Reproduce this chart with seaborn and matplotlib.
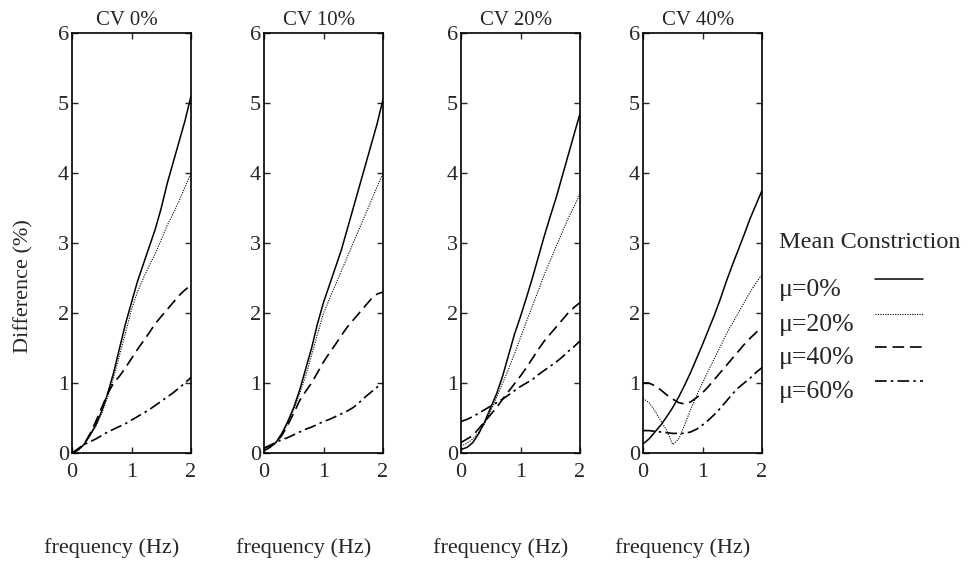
import matplotlib
matplotlib.use("Agg")
import matplotlib.pyplot as plt
from matplotlib.lines import Line2D
import pandas as pd
import seaborn as sns

# frequency grid (Hz) shared by all panels
freq = [0.0, 0.1, 0.2, 0.3, 0.4, 0.5, 0.6, 0.7, 0.8, 0.9, 1.0,
        1.1, 1.2, 1.3, 1.4, 1.5, 1.6, 1.7, 1.8, 1.9, 2.0]

panel_titles = ["CV 0%", "CV 10%", "CV 20%", "CV 40%"]
mu_labels = ["\u03bc=0%", "\u03bc=20%", "\u03bc=40%", "\u03bc=60%"]

# difference (%) per panel, per mean constriction
cv0_mu0 = [0.0, 0.04, 0.12, 0.25, 0.40, 0.60, 0.85, 1.15, 1.50, 1.85, 2.15,
           2.45, 2.70, 2.95, 3.20, 3.50, 3.85, 4.15, 4.45, 4.75, 5.10]
cv0_mu20 = [0.0, 0.04, 0.12, 0.25, 0.38, 0.57, 0.80, 1.08, 1.40, 1.72, 2.05,
            2.30, 2.50, 2.68, 2.85, 3.05, 3.25, 3.42, 3.60, 3.80, 4.00]
cv0_mu40 = [0.0, 0.05, 0.12, 0.27, 0.45, 0.65, 0.85, 1.00, 1.10, 1.22, 1.35,
            1.48, 1.60, 1.72, 1.85, 1.95, 2.05, 2.15, 2.25, 2.33, 2.40]
cv0_mu60 = [0.0, 0.06, 0.12, 0.16, 0.20, 0.25, 0.30, 0.34, 0.38, 0.42, 0.47,
            0.52, 0.57, 0.62, 0.68, 0.74, 0.80, 0.86, 0.93, 1.00, 1.08]

cv10_mu0 = [0.03, 0.08, 0.15, 0.28, 0.45, 0.65, 0.90, 1.20, 1.50, 1.85, 2.15,
            2.40, 2.65, 2.90, 3.20, 3.50, 3.80, 4.10, 4.40, 4.70, 5.05]
cv10_mu20 = [0.03, 0.08, 0.15, 0.27, 0.42, 0.62, 0.85, 1.10, 1.40, 1.70, 2.00,
             2.20, 2.40, 2.60, 2.80, 3.00, 3.20, 3.40, 3.60, 3.80, 4.00]
cv10_mu40 = [0.07, 0.10, 0.15, 0.25, 0.40, 0.57, 0.75, 0.88, 1.00, 1.15, 1.30,
             1.43, 1.55, 1.68, 1.80, 1.90, 2.00, 2.10, 2.20, 2.27, 2.30]
cv10_mu60 = [0.07, 0.11, 0.15, 0.19, 0.22, 0.26, 0.30, 0.34, 0.37, 0.41, 0.45,
             0.48, 0.52, 0.56, 0.60, 0.65, 0.72, 0.80, 0.87, 0.94, 1.00]

cv20_mu0 = [0.05, 0.08, 0.15, 0.28, 0.45, 0.65, 0.85, 1.10, 1.40, 1.70, 1.95,
            2.22, 2.50, 2.80, 3.10, 3.38, 3.65, 3.95, 4.25, 4.55, 4.85]
cv20_mu20 = [0.10, 0.14, 0.20, 0.30, 0.42, 0.60, 0.80, 1.00, 1.20, 1.42, 1.65,
             1.88, 2.10, 2.32, 2.55, 2.75, 2.95, 3.15, 3.35, 3.52, 3.70]
cv20_mu40 = [0.15, 0.20, 0.25, 0.35, 0.45, 0.55, 0.65, 0.77, 0.88, 0.99, 1.10,
             1.22, 1.35, 1.48, 1.60, 1.70, 1.80, 1.90, 2.00, 2.08, 2.15]
cv20_mu60 = [0.45, 0.48, 0.52, 0.57, 0.62, 0.67, 0.72, 0.77, 0.83, 0.89, 0.95,
             1.00, 1.05, 1.12, 1.18, 1.24, 1.30, 1.37, 1.45, 1.52, 1.60]

cv40_mu0 = [0.13, 0.20, 0.30, 0.40, 0.52, 0.65, 0.80, 0.97, 1.15, 1.35, 1.55,
            1.76, 1.97, 2.20, 2.45, 2.68, 2.90, 3.12, 3.35, 3.55, 3.75]
cv40_mu20 = [0.78, 0.72, 0.60, 0.46, 0.32, 0.12, 0.20, 0.40, 0.62, 0.82, 1.00,
             1.18, 1.35, 1.52, 1.70, 1.85, 2.00, 2.15, 2.30, 2.43, 2.55]
cv40_mu40 = [1.00, 1.00, 0.96, 0.90, 0.83, 0.77, 0.72, 0.70, 0.73, 0.79, 0.86,
             0.95, 1.05, 1.15, 1.25, 1.35, 1.45, 1.55, 1.64, 1.72, 1.80]
cv40_mu60 = [0.32, 0.32, 0.31, 0.30, 0.29, 0.28, 0.28, 0.28, 0.30, 0.34, 0.40,
             0.47, 0.55, 0.64, 0.74, 0.84, 0.93, 1.00, 1.07, 1.15, 1.22]

panels = [
    [cv0_mu0, cv0_mu20, cv0_mu40, cv0_mu60],
    [cv10_mu0, cv10_mu20, cv10_mu40, cv10_mu60],
    [cv20_mu0, cv20_mu20, cv20_mu40, cv20_mu60],
    [cv40_mu0, cv40_mu20, cv40_mu40, cv40_mu60],
]

# line styles per mean constriction
styles = {
    mu_labels[0]: dict(ls="-", lw=1.1),
    mu_labels[1]: dict(ls=(0, (1, 1.2)), lw=0.8),
    mu_labels[2]: dict(ls=(0, (7, 3.5)), lw=1.2),
    mu_labels[3]: dict(ls=(0, (7, 2.5, 1.5, 2.5)), lw=1.2),
}

sns.set_style("ticks")
plt.rcParams["font.family"] = ["Liberation Serif", "DejaVu Serif"]

W, H = 974, 583
fig = plt.figure(figsize=(W / 100, H / 100), dpi=100)

ax_lefts = [72, 264, 461, 643]
ax_w, ax_top, ax_bottom = 119, 33, 453

for left, title, series in zip(ax_lefts, panel_titles, panels):
    ax = fig.add_axes([left / W, 1 - ax_bottom / H, ax_w / W, (ax_bottom - ax_top) / H])
    for label, vals in zip(mu_labels, series):
        df = pd.DataFrame({"freq": freq, "diff": vals})
        sns.lineplot(data=df, x="freq", y="diff", ax=ax, color="black",
                     linestyle=styles[label]["ls"], linewidth=styles[label]["lw"])
    ax.set_xlim(0, 2)
    ax.set_ylim(0, 6)
    ax.set_xticks([0, 1, 2])
    ax.set_yticks(range(7))
    ax.tick_params(direction="in", length=4, width=1, top=True, right=True,
                   labelsize=16, pad=2)
    ax.tick_params(axis="x", pad=7)
    for sp in ax.spines.values():
        sp.set_linewidth(1.2)
        sp.set_color("black")
    ax.set_title(title, fontsize=15, pad=6, x=0.46)
    ax.set_xlabel("frequency (Hz)", fontsize=16)
    ax.xaxis.set_label_coords(0.33, -(548 - ax_bottom) / (ax_bottom - ax_top))
    ax.xaxis.label.set_va("center")
    ax.set_ylabel("")

fig.text(24 / W, 1 - 286 / H, "Difference (%)", rotation=90, fontsize=16,
         ha="center", va="center")

# legend drawn by hand: label column on the left, line samples on the right
fig.text(779 / W, 1 - 243 / H, "Mean Constriction", fontsize=17.5, ha="left", va="center")
for label, ty in zip(mu_labels, [290, 325, 358, 392]):
    fig.text(779 / W, 1 - ty / H, label, fontsize=18.5, ha="left", va="center")
    fig.add_artist(Line2D([875 / W, 923 / W], [1 - (ty - 11) / H] * 2, color="black",
                          linestyle=styles[label]["ls"], linewidth=styles[label]["lw"]))

fig.savefig("out.png", dpi=100)
